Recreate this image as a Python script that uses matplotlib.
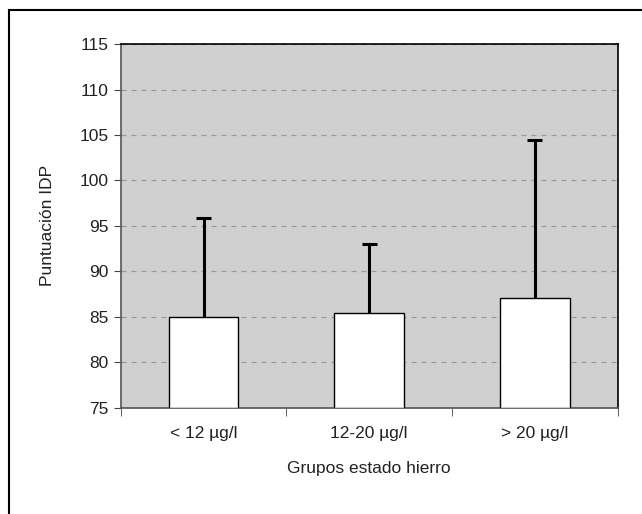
import matplotlib
matplotlib.use("Agg")
import matplotlib.pyplot as plt
from matplotlib.lines import Line2D

plt.rcParams['font.family'] = ['Liberation Sans', 'DejaVu Sans']

# --- data
categories = ['< 12 µg/l', '12-20 µg/l', '> 20 µg/l']
means = [85.0, 85.4, 87.1]
upper = [95.9, 93.0, 104.5]
yticks = [75, 80, 85, 90, 95, 100, 105, 110, 115]

x = list(range(len(categories)))

fig = plt.figure(figsize=(6.42, 5.14), dpi=100)
ax = fig.add_axes([0.188, 0.207, 0.774, 0.707])
ax.set_facecolor('#d0d0d0')

ax.bar(x, [m - 75 for m in means], bottom=75, width=0.42, color='white',
       edgecolor='black', linewidth=1.0, zorder=3)
# upper error bars only (no cap at the bar top)
ax.vlines(x, means, upper, color='black', linewidth=2.2, zorder=4)
ax.hlines(upper, [i - 0.045 for i in x], [i + 0.045 for i in x],
          color='black', linewidth=2.2, zorder=4)

ax.set_xlim(-0.5, 2.5)
ax.set_ylim(75, 115)
ax.set_yticks(yticks)
ax.set_xticks(x)
ax.set_xticklabels(categories)
ax.set_xticks([-0.5, 0.5, 1.5, 2.5], minor=True)
ax.tick_params(axis='x', which='major', length=0, pad=13, labelsize=12.5, colors='#222222')
ax.tick_params(axis='x', which='minor', length=6, direction='out', color='#444444')
ax.tick_params(axis='y', length=5, direction='out', color='#444444', labelsize=12.5,
               labelcolor='#222222')

ax.yaxis.grid(True, linestyle=(0, (4, 4)), color='#999999', linewidth=0.9, zorder=1)
ax.set_axisbelow(True)

for side in ['left', 'bottom']:
    ax.spines[side].set_color('#555555')
    ax.spines[side].set_linewidth(1.2)
for side in ['top', 'right']:
    ax.spines[side].set_color('black')
    ax.spines[side].set_linewidth(1.2)

ax.set_ylabel('Puntuación IDP', fontsize=12.5, labelpad=18, color='#222222')
ax.set_xlabel('Grupos estado hierro', fontsize=12.5, labelpad=15, color='#222222')

# outer frame
fx, fy = 9 / 642, 1 - 10 / 514
fig.add_artist(Line2D([fx, fx], [0, fy], transform=fig.transFigure, color='black', linewidth=1.5))
fig.add_artist(Line2D([fx, 1], [fy, fy], transform=fig.transFigure, color='black', linewidth=1.5))

fig.savefig('out.png', dpi=100)
